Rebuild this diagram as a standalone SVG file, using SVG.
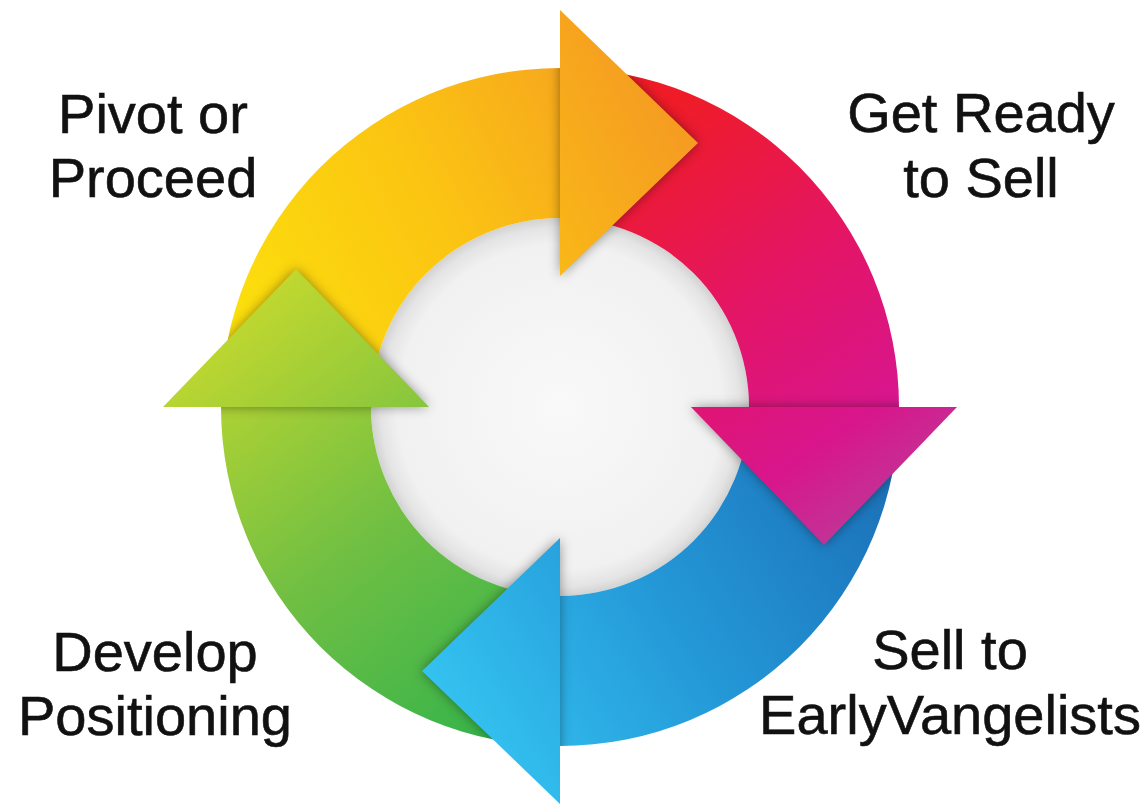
<svg xmlns="http://www.w3.org/2000/svg" width="1146" height="806" viewBox="0 0 1146 806">
  <defs>
    <style>
      .label { font-family: "Liberation Sans", Arial, Helvetica, sans-serif; font-size: 56px; fill: #111; stroke: #111; stroke-width: 0.6px; text-anchor: middle; }
      .shadow { fill: #000; opacity: 0.4; }
    </style>
    <!-- stage colours, laid out in page space so body and head share one ramp -->
    <linearGradient id="gYellow" gradientUnits="userSpaceOnUse" x1="230" y1="400" x2="700" y2="150">
      <stop offset="0" stop-color="#fbe40c"/>
      <stop offset="0.5" stop-color="#fbc512"/>
      <stop offset="1" stop-color="#f59b22"/>
    </linearGradient>
    <linearGradient id="gRed" gradientUnits="userSpaceOnUse" x1="620" y1="140" x2="900" y2="540">
      <stop offset="0" stop-color="#ef1c27"/>
      <stop offset="0.45" stop-color="#e3156a"/>
      <stop offset="0.75" stop-color="#d8168c"/>
      <stop offset="1" stop-color="#b8409a"/>
    </linearGradient>
    <linearGradient id="gBlue" gradientUnits="userSpaceOnUse" x1="895" y1="440" x2="440" y2="730">
      <stop offset="0" stop-color="#1b6db5"/>
      <stop offset="0.5" stop-color="#2396d6"/>
      <stop offset="1" stop-color="#35c5f2"/>
    </linearGradient>
    <linearGradient id="gGreen" gradientUnits="userSpaceOnUse" x1="540" y1="740" x2="220" y2="320">
      <stop offset="0" stop-color="#2fb24c"/>
      <stop offset="0.5" stop-color="#70bf43"/>
      <stop offset="1" stop-color="#c2d82f"/>
    </linearGradient>
    <radialGradient id="gHub" gradientUnits="userSpaceOnUse" cx="560" cy="407" r="189">
      <stop offset="0" stop-color="#f9f9f9"/>
      <stop offset="0.86" stop-color="#f1f1f1"/>
      <stop offset="0.95" stop-color="#e4e4e4"/>
      <stop offset="1" stop-color="#d2d2d2"/>
    </radialGradient>
    <filter id="soft" x="-20%" y="-20%" width="140%" height="140%">
      <feGaussianBlur stdDeviation="6"/>
    </filter>
    <clipPath id="ringDisc">
      <circle cx="560" cy="407" r="339"/>
    </clipPath>
  </defs>

  <rect width="1146" height="806" fill="#ffffff"/>

  <!-- centre hub -->
  <circle id="hub" cx="560" cy="407" r="189" fill="url(#gHub)"/>

  <!-- quarter-ring bodies with their labels -->
  <g id="stage-pivot-or-proceed">
    <path d="M221,407 A339,339 0 0 1 560,68 L560,218 A189,189 0 0 0 371,407 Z" fill="url(#gYellow)"/>
    <text class="label" x="153" y="133">Pivot or</text>
    <text class="label" x="153" y="197">Proceed</text>
  </g>
  <g id="stage-get-ready-to-sell">
    <path d="M560,68 A339,339 0 0 1 899,407 L749,407 A189,189 0 0 0 560,218 Z" fill="url(#gRed)"/>
    <text class="label" x="981" y="132">Get Ready</text>
    <text class="label" x="981" y="197">to Sell</text>
  </g>
  <g id="stage-sell-to-earlyvangelists">
    <path d="M899,407 A339,339 0 0 1 560,746 L560,596 A189,189 0 0 0 749,407 Z" fill="url(#gBlue)"/>
    <text class="label" x="950" y="669">Sell to</text>
    <text class="label" x="950" y="734">EarlyVangelists</text>
  </g>
  <g id="stage-develop-positioning">
    <path d="M560,746 A339,339 0 0 1 221,407 L371,407 A189,189 0 0 0 560,596 Z" fill="url(#gGreen)"/>
    <text class="label" x="155" y="671">Develop</text>
    <text class="label" x="155" y="735">Positioning</text>
  </g>

  <!-- arrowheads linking each stage to the next -->
  <g id="connectors">
    <g clip-path="url(#ringDisc)">
      <g filter="url(#soft)">
        <path class="shadow" d="M560,10 L698,143 L560,276 Z"/>
        <path class="shadow" d="M957,407 L824,545 L691,407 Z"/>
        <path class="shadow" d="M560,804 L422,671 L560,538 Z"/>
        <path class="shadow" d="M163,407 L296,269 L429,407 Z"/>
      </g>
    </g>
    <path id="head-pivot-to-ready" d="M560,10 L698,143 L560,276 Z" fill="url(#gYellow)"/>
    <path id="head-ready-to-sell" d="M957,407 L824,545 L691,407 Z" fill="url(#gRed)"/>
    <path id="head-sell-to-develop" d="M560,804 L422,671 L560,538 Z" fill="url(#gBlue)"/>
    <path id="head-develop-to-pivot" d="M163,407 L296,269 L429,407 Z" fill="url(#gGreen)"/>
  </g>
</svg>
